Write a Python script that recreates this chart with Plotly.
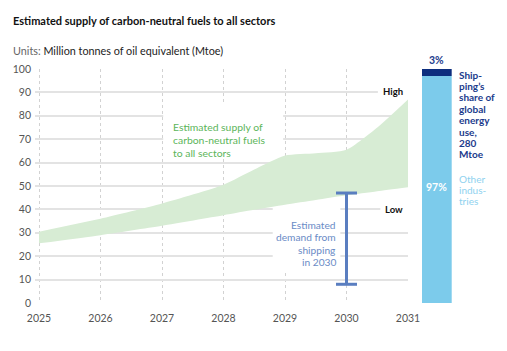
import plotly.graph_objects as go

# ---- data ----
years = [2025, 2026, 2027, 2028, 2028.5, 2029, 2029.5, 2030, 2030.5, 2031]
supply_low = [25.5, 29, 33, 37.5, 39.8, 42, 44, 46, 47.8, 49.5]
supply_high = [30.5, 36, 42.5, 50.5, 57, 63, 64, 65.5, 75, 87]
year_ticks = [2025, 2026, 2027, 2028, 2029, 2030, 2031]
year_labels = [str(y) for y in year_ticks]
y_ticks = list(range(0, 101, 10))
demand_year = 2030
demand_range = [8, 47]
share_labels = ["Other industries", "Shipping"]
share_values = [97, 3]
share_colors = ["#7ccbeb", "#0d2e7e"]

W, H = 507, 351
ML, MR, MT, MB = 0, 0, 69, 48
PH = H - MT - MB
FONT = "Lato"

def px(xp):
    return xp / W

def py(yp):
    return (H - MB - yp) / PH

fig = go.Figure()

# band
fig.add_trace(go.Scatter(x=years, y=supply_low, mode="lines",
                         line=dict(width=0, shape="spline", smoothing=0.6),
                         hoverinfo="skip", showlegend=False))
fig.add_trace(go.Scatter(x=years, y=supply_high, mode="lines", fill="tonexty",
                         fillcolor="#d7ecd4",
                         line=dict(width=0, shape="spline", smoothing=0.6),
                         hoverinfo="skip", showlegend=False))

# demand range bar
fig.add_trace(go.Scatter(x=[demand_year, demand_year], y=demand_range,
                         mode="lines+markers",
                         line=dict(color="#5a7ec0", width=3),
                         marker=dict(symbol="line-ew", size=15,
                                     line=dict(color="#5a7ec0", width=3)),
                         hoverinfo="skip", showlegend=False))

# share bar
for lab, val, col in zip(share_labels, share_values, share_colors):
    fig.add_trace(go.Bar(x=["share"], y=[val], name=lab, marker_color=col,
                         marker_line_width=0, width=1,
                         xaxis="x2", yaxis="y2", showlegend=False,
                         hoverinfo="skip"))

x0 = 2025 - 4 / 61.5
fig.update_layout(
    width=W, height=H,
    margin=dict(l=ML, r=MR, t=MT, b=MB, autoexpand=False),
    plot_bgcolor="white", paper_bgcolor="white",
    barmode="stack",
    font=dict(family=FONT, color="#444"),
    xaxis=dict(domain=[px(35), px(408)], range=[x0, 2031],
               tickvals=year_ticks, ticktext=year_labels,
               showgrid=True, gridcolor="#d2d2d2", griddash="dot", gridwidth=1,
               zeroline=False, showline=False, ticks="", ticklabelstandoff=7,
               tickfont=dict(size=10.5, color="#555"), automargin=False),
    yaxis=dict(range=[0, 100], tickvals=y_ticks,
               showgrid=True, gridcolor="#e3e3e3", gridwidth=1.5,
               zeroline=False, showline=False, ticks="", ticklabelstandoff=3,
               tickfont=dict(size=10.5, color="#555"), automargin=False),
    xaxis2=dict(domain=[px(421.7), px(451.7)], range=[-0.5, 0.5],
                visible=False, anchor="y2"),
    yaxis2=dict(domain=[0, 1], range=[0, 100], visible=False, anchor="x2"),
)

# white boxes breaking gridlines (between grid and traces)
boxes = [
    (2027.02, 62, 2028.97, 85),
    (2028.80, 13, 2029.90, 41.5),
    (2030.51, 86, 2031.0, 94),
    (2030.55, 36.5, 2031.0, 43.5),
]
for bx0, by0, bx1, by1 in boxes:
    fig.add_shape(type="rect", xref="x", yref="y", x0=bx0, y0=by0, x1=bx1, y1=by1,
                  fillcolor="white", line_width=0, layer="between")

anns = []
# title & subtitle
anns.append(dict(text="<b>Estimated supply of carbon-neutral fuels to all sectors</b>",
                 x=px(11), y=py(20), xanchor="left", yanchor="middle",
                 font=dict(size=11, color="#111")))
anns.append(dict(text="<span style='color:#666'>Units:</span> Million tonnes of oil equivalent (Mtoe)",
                 x=px(11), y=py(50), xanchor="left", yanchor="middle",
                 font=dict(size=10.8, color="#222")))
# green label
for i, t in enumerate(["Estimated supply of", "carbon-neutral fuels", "to all sectors"]):
    anns.append(dict(text=t, x=px(171), y=py(127 + 13 * i), xanchor="left", yanchor="middle",
                     font=dict(size=10.4, color="#5cb55a")))
# demand label
for i, t in enumerate(["Estimated", "demand from", "shipping", "in 2030"]):
    anns.append(dict(text=t, x=px(338), y=py(225 + 12.3 * i), xanchor="right", yanchor="middle",
                     font=dict(size=10.2, color="#6a8bc6")))
# High / Low
anns.append(dict(text="<b>High</b>", x=px(405), y=py(91), xanchor="right", yanchor="middle",
                 font=dict(size=9.5, color="#111")))
anns.append(dict(text="<b>Low</b>", x=px(405), y=py(209), xanchor="right", yanchor="middle",
                 font=dict(size=9.5, color="#111")))
# bar labels
anns.append(dict(text="<b>3%</b>", x=px(436.7), y=py(60.5), xanchor="center", yanchor="middle",
                 font=dict(size=10.5, color="#1b3b8c")))
anns.append(dict(text="<b>97%</b>", x=px(436.7), y=py(187), xanchor="center", yanchor="middle",
                 font=dict(size=10.5, color="white")))
ship_lines = ["Ship-", "ping’s", "share of", "global", "energy", "use,", "280", "Mtoe"]
for i, t in enumerate(ship_lines):
    anns.append(dict(text=f"<b>{t}</b>", x=px(457), y=py(74.5 + 11.4 * i), xanchor="left",
                     yanchor="middle", font=dict(size=10, color="#1b3b8c")))
for i, t in enumerate(["Other", "indus-", "tries"]):
    anns.append(dict(text=t, x=px(457), y=py(179 + 11 * i), xanchor="left",
                     yanchor="middle", font=dict(size=10, color="#8fd2ef")))

for a in anns:
    a.setdefault("xref", "paper")
    a.setdefault("yref", "paper")
    a["showarrow"] = False
fig.update_layout(annotations=anns)

fig.write_html("out.html")
